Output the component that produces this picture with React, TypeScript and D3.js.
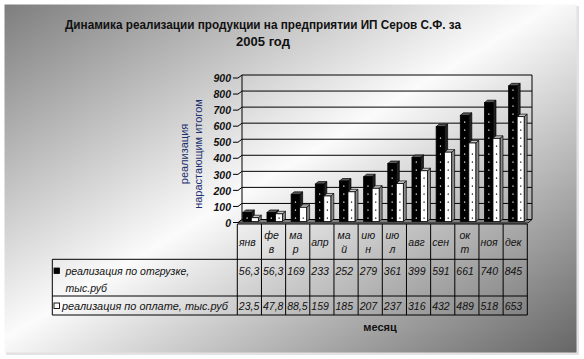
import React from "react";
import * as d3 from "d3";

const months = ["янв", "фев", "мар", "апр", "май", "июн", "июл", "авг", "сен", "окт", "ноя", "дек"];
const monthLines = [["янв"], ["фе", "в"], ["ма", "р"], ["апр"], ["ма", "й"], ["ию", "н"], ["ию", "л"], ["авг"], ["сен"], ["ок", "т"], ["ноя"], ["дек"]];
const shipped = [56.3, 56.3, 169, 233, 252, 279, 361, 399, 591, 661, 740, 845];
const paid = [23.5, 47.8, 88.5, 159, 185, 207, 237, 316, 432, 489, 518, 653];
const seriesNames = ["реализация по отгрузке, тыс.руб", "реализация по оплате, тыс.руб"];
const titleLines = ["Динамика реализации продукции на предприятии ИП Серов С.Ф. за", "2005 год"];
const yTitleLines = ["реализация", "нарастающим итогом"];
const xTitle = "месяц";
const yMax = 900;

const W = 584, H = 359;
const fmt = (v: number) => (Number.isInteger(v) ? String(v) : d3.format(".1f")(v).replace(".", ","));

export default function App() {
  const x = d3.scaleBand<string>().domain(months).range([237.3, 527.3]).paddingInner(0).paddingOuter(0);
  const bw = x.bandwidth();
  const yBack = d3.scaleLinear().domain([0, yMax]).range([219.5, 75]);
  const yFront = d3.scaleLinear().domain([0, yMax]).range([223, 78.5]);
  const yBar = d3.scaleLinear().domain([0, yMax]).range([221.5, 77]);
  const ticks = yBack.ticks(9);
  const wallL = 242, wallR = 532;
  const frontL = 238, frontR = 528;
  const bdx = 3, bdy = 2.5;

  const tableTop = 224, row1 = 259.3, row2 = 296, tableBottom = 315, legendL = 52.3;
  const tableR = 527.3;

  const font = "'Liberation Sans', Arial, sans-serif";

  const bar = (x0: number, w: number, v: number, kind: "black" | "white", key: string) => {
    const yt = yBar(v), yb = yBar(0);
    const front = kind === "black" ? "#000" : "#fff";
    const top = kind === "black" ? "#5a5a5a" : "#c8c8c8";
    const side = kind === "black" ? "#222" : "#8a8a8a";
    const dotColor = kind === "black" ? "#fff" : "#000";
    const dots: JSX.Element[] = [];
    const cxDot = x0 + w / 2;
    for (let yy = yb - 4, k = 0; yy > yt + 3; yy -= 8, k++) {
      dots.push(<rect key={k} x={cxDot - 0.5} y={yy} width={1.2} height={1.2} fill={dotColor} />);
    }
    return (
      <g key={key}>
        <polygon points={`${x0 + w},${yb} ${x0 + w + bdx},${yb - bdy} ${x0 + w + bdx},${yt - bdy} ${x0 + w},${yt}`} fill={side} stroke="#000" strokeWidth={0.7} />
        <polygon points={`${x0},${yt} ${x0 + bdx},${yt - bdy} ${x0 + w + bdx},${yt - bdy} ${x0 + w},${yt}`} fill={top} stroke="#000" strokeWidth={0.7} />
        <rect x={x0} y={yt} width={w} height={yb - yt} fill={front} stroke="#000" strokeWidth={0.8} />
        {dots}
      </g>
    );
  };

  return (
    <svg width={W} height={H} style={{ position: "absolute", left: 0, top: 0 }} fontFamily={font}>
      <defs>
        <linearGradient id="bg" x1="0" y1="0" x2="1" y2="1">
          <stop offset="0" stopColor="#7e7e7e" />
          <stop offset="0.48" stopColor="#fbfbfb" />
          <stop offset="1" stopColor="#666" />
        </linearGradient>
      </defs>
      <rect x={0} y={0} width={W} height={H} fill="#fff" />
      <rect x={6} y={6} width={573} height={349} fill="#e2e2e2" />
      <rect x={4.5} y={4.5} width={572} height={348} fill="url(#bg)" />

      {/* title */}
      <text x={263} y={29} textAnchor="middle" fontSize={13} fontWeight="bold" fill="#111" textLength={396} lengthAdjust="spacingAndGlyphs">{titleLines[0]}</text>
      <text x={263} y={45.5} textAnchor="middle" fontSize={13} fontWeight="bold" fill="#111">{titleLines[1]}</text>

      {/* y title */}
      <g transform="translate(191,154) rotate(-90)">
        {yTitleLines.map((t, i) => (
          <text key={i} x={0} y={(i - 0.5) * 14} dy="0.35em" textAnchor="middle" fontSize={11} fill="#1a2f6e">{t}</text>
        ))}
      </g>

      {/* floor */}
      <polygon points={`${frontL},${yFront(0)} ${frontR},${yFront(0)} ${wallR},${yBack(0)} ${wallL},${yBack(0)}`} fill="#808080" stroke="#000" strokeWidth={0.8} />

      {/* back wall gridlines */}
      {ticks.map((t) => (
        <g key={t}>
          <line x1={wallL} x2={wallR} y1={yBack(t)} y2={yBack(t)} stroke="#000" strokeWidth={1} />
          <line x1={233} x2={frontL} y1={yFront(t) - 0.5} y2={yFront(t) - 0.5} stroke="#000" strokeWidth={1} />
          <line x1={frontL} x2={wallL} y1={yFront(t) - 0.5} y2={yBack(t)} stroke="#000" strokeWidth={1} />
          <text x={231} y={yFront(t)} dy="0.35em" textAnchor="end" fontSize={10.5} fontWeight="bold" fontStyle="italic" fill="#111">{t}</text>
        </g>
      ))}
      <line x1={wallL} x2={wallL} y1={yBack(yMax)} y2={yBack(0)} stroke="#000" strokeWidth={1} />
      <line x1={wallR} x2={wallR} y1={yBack(yMax)} y2={yBack(0)} stroke="#000" strokeWidth={1} />

      {/* bars */}
      {months.map((m, i) => {
        const c = x(m)!;
        return (
          <g key={m}>
            {bar(c + 5.5, 8.5, shipped[i], "black", "b")}
            {bar(c + 14, 7, paid[i], "white", "w")}
          </g>
        );
      })}

      {/* data table */}
      <g stroke="#000" strokeWidth={1}>
        <line x1={x.range()[0]} x2={tableR} y1={tableTop} y2={tableTop} />
        <line x1={legendL} x2={tableR} y1={row1} y2={row1} />
        <line x1={legendL} x2={tableR} y1={row2} y2={row2} />
        <line x1={legendL} x2={tableR} y1={tableBottom} y2={tableBottom} />
        <line x1={legendL} x2={legendL} y1={row1} y2={tableBottom} />
        {months.map((m) => (
          <line key={m} x1={x(m)!} x2={x(m)!} y1={tableTop} y2={tableBottom} />
        ))}
        <line x1={tableR} x2={tableR} y1={tableTop} y2={tableBottom} />
      </g>

      {monthLines.map((lines, i) => {
        const c = x(months[i])! + bw / 2 - 2;
        return lines.map((l, j) => (
          <text key={`${i}-${j}`} x={c} y={lines.length === 1 ? 242 : 235 + j * 14} dy="0.35em" textAnchor="middle" fontSize={10.5} fontStyle="italic" fill="#111">{l}</text>
        ));
      })}

      {shipped.map((v, i) => (
        <text key={`s${i}`} x={x(months[i])! + 1.5} y={271} dy="0.35em" fontSize={10.5} fontStyle="italic" fill="#111">{fmt(v)}</text>
      ))}
      {paid.map((v, i) => (
        <text key={`p${i}`} x={x(months[i])! + 1.5} y={306} dy="0.35em" fontSize={10.5} fontStyle="italic" fill="#111">{fmt(v)}</text>
      ))}

      {/* legend */}
      <rect x={54} y={268} width={5.5} height={5.5} fill="#000" stroke="#000" strokeWidth={0.8} />
      <text x={65.5} y={271} dy="0.35em" fontSize={10.5} fontStyle="italic" fill="#111">{seriesNames[0].split(" тыс.руб")[0]}</text>
      <text x={65.5} y={288} dy="0.35em" fontSize={10.5} fontStyle="italic" fill="#111">тыс.руб</text>
      <rect x={54} y={303} width={5.5} height={5.5} fill="#fff" stroke="#000" strokeWidth={0.9} />
      <text x={62} y={306} dy="0.35em" fontSize={10.5} fontStyle="italic" fill="#111" textLength={166} lengthAdjust="spacingAndGlyphs">{seriesNames[1]}</text>

      <text x={380} y={327} dy="0.35em" textAnchor="middle" fontSize={11} fontWeight="bold" fill="#111">{xTitle}</text>
    </svg>
  );
}
